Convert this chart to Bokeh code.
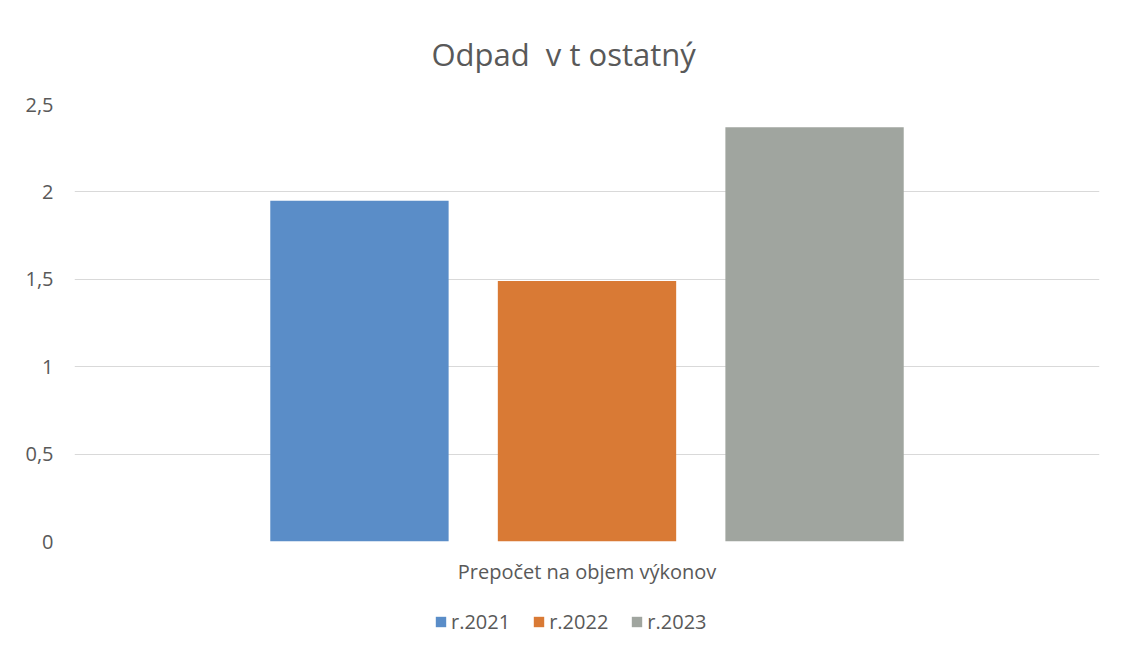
from bokeh.plotting import figure
from bokeh.models import FactorRange, Range1d, FixedTicker, Legend, LegendItem, ColumnDataSource, Title
from bokeh.layouts import column
from bokeh.transform import dodge
from bokeh.embed import file_html
from bokeh.resources import INLINE

category = ["Prepočet na objem výkonov"]
series = ["r.2021", "r.2022", "r.2023"]
values = [1.95, 1.49, 2.37]
colors = ["#5a8dc8", "#d97a35", "#a0a59f"]
offsets = [-0.222, 0.0, 0.222]
y_ticks = [0, 0.5, 1, 1.5, 2, 2.5]
y_tick_labels = ["0", "0,5", "1", "1,5", "2", "2,5"]

FONT = "Open Sans"
TXT = "#595959"

p = figure(x_range=FactorRange(factors=category, range_padding=0), y_range=Range1d(0, 2.5),
           frame_width=1025, frame_height=437, output_backend="svg", toolbar_location=None,
           min_border_left=74, min_border_right=6, min_border_top=0, min_border_bottom=45)
p.outline_line_color = None
p.background_fill_color = "white"
p.border_fill_color = "white"

p.add_layout(Title(text="Odpad\u00a0\u00a0v t ostatný", align="left", text_font=FONT, text_font_size="31px",
                   text_color=TXT, text_font_style="normal", offset=357, standoff=60), "above")

for s, v, c, o in zip(series, values, colors, offsets):
    src = ColumnDataSource(dict(x=category, top=[v]))
    p.vbar(x=dodge("x", o, range=p.x_range), top="top", width=0.174, source=src,
           fill_color=c, line_color=None)

p.yaxis.ticker = FixedTicker(ticks=y_ticks)
p.yaxis.major_label_overrides = {t: l for t, l in zip(y_ticks, y_tick_labels)}
p.yaxis.axis_line_color = None
p.yaxis.major_tick_line_color = None
p.yaxis.minor_tick_line_color = None
p.yaxis.major_label_text_font = FONT
p.yaxis.major_label_text_font_size = "20px"
p.yaxis.major_label_text_color = TXT
p.yaxis.major_label_standoff = 15

p.xaxis.axis_line_color = None
p.xaxis.major_tick_line_color = None
p.xaxis.major_label_text_font = FONT
p.xaxis.major_label_text_font_size = "20px"
p.xaxis.major_label_text_color = TXT
p.xaxis.major_label_standoff = 10

p.xgrid.grid_line_color = None
p.ygrid.grid_line_color = "#d9d9d9"
p.ygrid.grid_line_width = 1

# legend strip (zero-size bars from the same data, used only as legend swatches)
lg = figure(width=1105, height=60, x_range=FactorRange(factors=series), y_range=Range1d(0, 3),
            output_backend="svg", toolbar_location=None,
            min_border_left=0, min_border_right=0, min_border_top=0, min_border_bottom=0)
lg.axis.visible = False
lg.grid.visible = False
lg.outline_line_color = None
items = []
for s, v, c in zip(series, values, colors):
    r = lg.vbar(x=[s], top=[v], bottom=[v], width=0.0, fill_color=c, line_color=None)
    items.append(LegendItem(label=s, renderers=[r]))

legend = Legend(items=items, orientation="horizontal", location=(360, 12),
                label_text_font=FONT, label_text_font_size="20px", label_text_color=TXT,
                glyph_width=13, glyph_height=13, spacing=22, label_standoff=4,
                border_line_color=None, background_fill_alpha=0, margin=0, padding=2)
lg.add_layout(legend, "center")

layout = column(p, lg, spacing=0)
open("out.html", "w").write(file_html(layout, INLINE))
